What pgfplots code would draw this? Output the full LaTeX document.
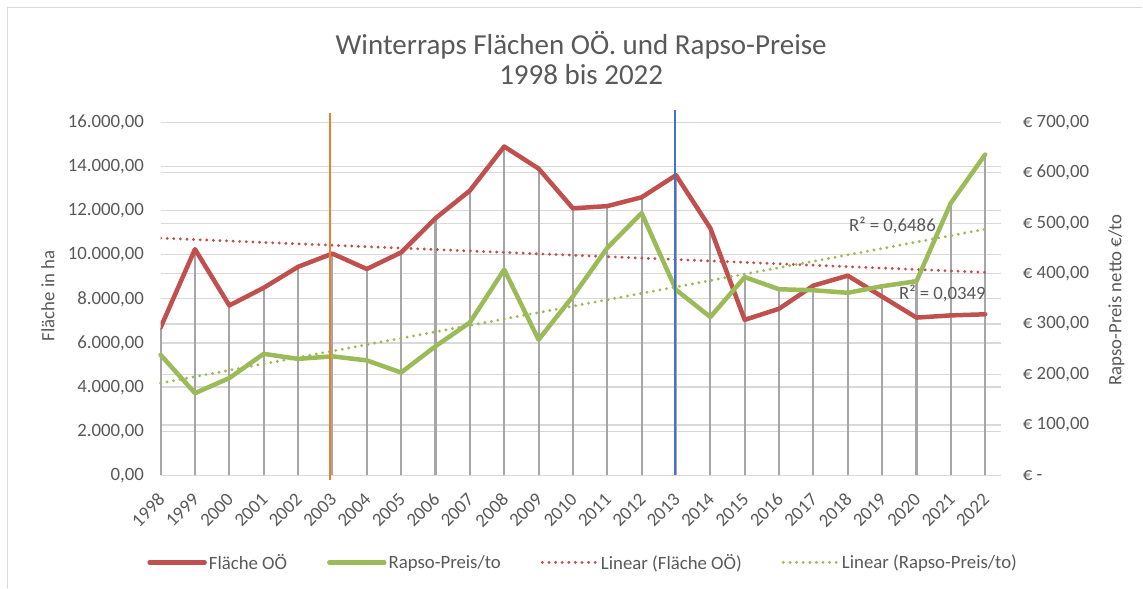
\documentclass[border=0pt]{standalone}
\usepackage{pgfplots}
\pgfplotsset{compat=1.18}
\usepackage{pgfplotstable}
\usepackage{fontspec}
\setmainfont{Carlito}
\definecolor{ser1}{HTML}{C0504D}
\definecolor{ser2}{HTML}{9BBB59}
\definecolor{txt}{HTML}{595959}
\definecolor{grd}{HTML}{D9D9D9}
\definecolor{drop}{HTML}{A6A6A6}
\definecolor{vorange}{HTML}{ED7D31}
\definecolor{vblue}{HTML}{4472C4}

\pgfplotstableread{
x v
0 6700
1 10250
2 7700
3 8500
4 9450
5 10050
6 9350
7 10100
8 11650
9 12900
10 14900
11 13900
12 12100
13 12200
14 12600
15 13600
16 11200
17 7050
18 7550
19 8600
20 9050
21 8100
22 7150
23 7250
24 7300
}\areadata

\pgfplotstableread{
x v
0 239
1 163
2 193
3 241
4 231
5 236
6 228
7 204
8 256
9 303
10 408
11 269
12 355
13 451
14 520
15 368
16 314
17 393
18 369
19 367
20 362
21 375
22 385
23 540
24 636
}\pricedata

\newcommand{\lf}{\fontsize{18.8bp}{22bp}\selectfont}

\pgfplotsset{
  base/.style={
    set layers,
    scale only axis, width=841bp, height=353.4bp,
    at={(160.7bp,112.3bp)}, anchor=south west,
    xmin=0, xmax=24.465,
    axis line style={draw=none}, major tick style={draw=none}, minor tick style={draw=none},
    ymajorgrids, grid style={grd, line width=1.3bp},
    ticklabel style={font=\lf, text=txt},
    /pgf/number format/assume math mode=true,
  },
  trenddot/.style={line width=3.2bp, line cap=round, dash pattern=on 0bp off 6.6bp},
}

\begin{document}
\begin{tikzpicture}
\path (0,0) rectangle (1143bp,588bp);
\draw[grd, line width=1.2bp] (7.5bp,0bp) -- (7.5bp,580.5bp) -- (1143bp,580.5bp);

\begin{axis}[base,
  ymin=0, ymax=16000, ytick={0,2000,...,16000}, scaled y ticks=false,
  /pgf/number format/fixed, /pgf/number format/fixed zerofill, /pgf/number format/precision=2,
  /pgf/number format/use comma, /pgf/number format/1000 sep={.},
  yticklabel style={anchor=east, inner sep=0pt, xshift=-16.5bp},
  ticklabel pos=left,
  xtick={0,...,24},
  xticklabels={1998,1999,2000,2001,2002,2003,2004,2005,2006,2007,2008,2009,2010,2011,2012,2013,2014,2015,2016,2017,2018,2019,2020,2021,2022},
  xticklabel style={xshift=1bp, yshift=-21bp, rotate=45, anchor=east, inner sep=0pt},
]
\addplot[drop, line width=2.1bp, ycomb, on layer=pre main] table[x=x, y=v] {\areadata};
\addplot[ser1, line width=4.5bp, line join=round, line cap=round] table[x=x, y=v] {\areadata};
\addplot[ser1, trenddot] coordinates {(0,10750) (24,9200)};
\end{axis}

\begin{axis}[base,
  ymin=0, ymax=700, ytick={0,100,...,700},
  yticklabels={{€ -},{€ 100,00},{€ 200,00},{€ 300,00},{€ 400,00},{€ 500,00},{€ 600,00},{€ 700,00}},
  ticklabel pos=right,
  yticklabel style={anchor=west, inner sep=0pt, xshift=21.6bp},
  xtick=\empty, clip=false,
  legend columns=4,
  legend style={at={(0.5027,-0.2462)}, anchor=center, draw=none, fill=none, font=\lf, text=txt,
    /tikz/every even column/.append style={column sep=38bp}},
  legend image code/.code={\draw[#1] (0bp,0bp) -- (55bp,0bp);},
]
\addlegendimage{ser1, line width=4.5bp, line cap=round}
\addlegendentry{Fläche OÖ}
\addplot[drop, line width=2.1bp, ycomb, on layer=pre main, forget plot] table[x=x, y=v] {\pricedata};
\addplot[ser2, line width=4.5bp, line join=round, line cap=round] table[x=x, y=v] {\pricedata};
\addlegendentry{Rapso-Preis/to}
\addlegendimage{ser1, trenddot}
\addlegendentry{Linear (Fläche OÖ)}
\addplot[ser2, trenddot] coordinates {(0,183) (24,488)};
\addlegendentry{Linear (Rapso-Preis/to)}
\addplot[vorange, line width=1.8bp, forget plot] coordinates {(4.94,-8.5) (4.94,718)};
\addplot[vblue, line width=1.8bp, forget plot] coordinates {(14.96,0) (14.96,724.4)};
\end{axis}

\node[txt, font=\lf, anchor=base west] at (846bp,356.5bp) {R² = 0,6486};
\node[txt, font=\lf, anchor=base west] at (896bp,288.7bp) {R² = 0,0349};
\node[txt, font=\lf, rotate=90] at (48bp,292bp) {Fläche in ha};
\node[txt, font=\lf, rotate=90] at (1117bp,288bp) {Rapso-Preis netto €/to};
\node[txt, font=\fontsize{29bp}{34bp}\selectfont, anchor=base] at (581.5bp,533bp) {Winterraps Flächen OÖ. und Rapso-Preise};
\node[txt, font=\fontsize{29bp}{34bp}\selectfont, anchor=base] at (581.5bp,503bp) {1998 bis 2022};
\end{tikzpicture}
\end{document}
